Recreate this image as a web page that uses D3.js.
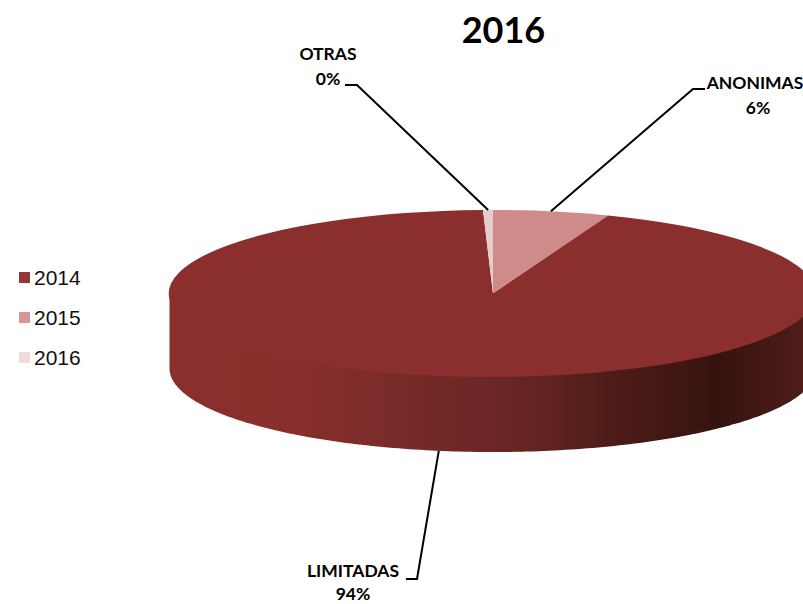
<!DOCTYPE html>
<html>
<head>
<meta charset="utf-8">
<script src="https://cdn.jsdelivr.net/npm/d3@7"></script>
<style>
    html, body { margin: 0; padding: 0; background: #fff; }
    svg { display: block; }
</style>
</head>
<body>
<div id="chart"></div>
<script>
(function () {
    "use strict";

    // values
    const categories = ["ANONIMAS", "LIMITADAS", "OTRAS"];
    const shares = [5.8, 93.7, 0.5];
    const shareLabels = ["6%", "94%", "0%"];
    const sliceColors = ["#cf8b8a", "#8a2f2d", "#e5cbca"];

    const legendYears = ["2014", "2015", "2016"];
    const legendColors = ["#953735", "#d99694", "#f2dcdb"];

    const width = 803;
    const height = 604;

    // the pie is a unit circle squashed into an ellipse
    const cx = 493;
    const cy = 293.5;
    const rx = 323.5;
    const ry = 83.5;
    const depth = 75;

    const svg = d3.select("#chart").append("svg").attr("width", width).attr("height", height);

    // shading of the side wall, dark towards the right
    const wallStops = [
        [0, "#8a2f2d"],
        [0.2, "#872f2c"],
        [0.36, "#782b29"],
        [0.5, "#6b2625"],
        [0.6, "#5e2220"],
        [0.68, "#4e1c18"],
        [0.85, "#361310"],
        [0.93, "#451815"],
        [1, "#561e1a"],
    ];
    const gradient = svg
        .append("defs")
        .append("linearGradient")
        .attr("id", "wall-shade")
        .attr("x1", 0)
        .attr("x2", 1)
        .attr("y1", 0)
        .attr("y2", 0);
    gradient
        .selectAll("stop")
        .data(wallStops)
        .join("stop")
        .attr("offset", (d) => d[0])
        .attr("stop-color", (d) => d[1]);

    // side wall, starts at the pie's centre line so no white shows along the seam
    const wallArea = d3
        .area()
        .x((t) => cx + rx * Math.cos(t))
        .y0(cy)
        .y1((t) => cy + ry * Math.sin(t) + depth);
    svg.append("path")
        .attr("d", wallArea(d3.range(0, Math.PI + 0.01, Math.PI / 180)))
        .attr("fill", "url(#wall-shade)");

    // top face
    const pie = d3.pie().sort(null);
    const pieData = pie(shares);
    const arc = d3.arc().innerRadius(0).outerRadius(1);
    svg.append("g")
        .attr("transform", `translate(${cx}, ${cy}) scale(${rx}, ${ry})`)
        .selectAll("path")
        .data(pieData)
        .join("path")
        .attr("d", arc)
        .attr("fill", (d, i) => sliceColors[i]);

    // leader lines run from the rim of a slice to a knee next to its label
    const leaders = [
        { angle: 0.18, knee: [693, 89], end: [705, 89], wall: false },
        { angle: 3.31, knee: [417, 579], end: [406, 579], wall: true },
        { angle: -0.015, knee: [357, 85], end: [345, 85], wall: false },
    ];
    const leaderLine = d3.line();
    svg.append("g")
        .selectAll("path")
        .data(leaders)
        .join("path")
        .attr("d", (d) => {
            const rim = [
                cx + rx * Math.sin(d.angle),
                cy - ry * Math.cos(d.angle) + (d.wall ? depth : 0),
            ];
            return leaderLine([rim, d.knee, d.end]);
        })
        .attr("fill", "none")
        .attr("stroke", "#000")
        .attr("stroke-width", 2);

    // title
    svg.append("text")
        .attr("x", 503.5)
        .attr("y", 43)
        .attr("text-anchor", "middle")
        .style("font", "bold 36px Lato")
        .attr("fill", "#000")
        .text("2016");

    // data labels: x, first baseline, gap to the second line
    const labelPositions = [
        [755, 89, 25],
        [353, 577, 23],
        [328, 60, 25],
    ];
    const labels = svg
        .append("g")
        .selectAll("text")
        .data(categories)
        .join("text")
        .attr("text-anchor", "middle")
        .attr("x", (d, i) => labelPositions[i][0])
        .attr("y", (d, i) => labelPositions[i][1])
        .style("font", "bold 17.5px Lato")
        .attr("fill", "#000");
    labels.append("tspan").text((d) => d);
    labels
        .append("tspan")
        .attr("x", (d, i) => (i === 0 ? 758 : labelPositions[i][0]))
        .attr("dy", (d, i) => labelPositions[i][2])
        .text((d, i) => shareLabels[i]);

    // legend
    const legendY = d3.scalePoint().domain(legendYears).range([278, 358]);
    const legend = svg
        .append("g")
        .selectAll("g")
        .data(legendYears)
        .join("g")
        .attr("transform", (d) => `translate(19, ${legendY(d)})`);
    legend
        .append("rect")
        .attr("y", -6)
        .attr("width", 11)
        .attr("height", 11)
        .attr("fill", (d, i) => legendColors[i]);
    legend
        .append("text")
        .attr("x", 15)
        .attr("y", 7)
        .style("font", "21px 'Liberation Sans'")
        .attr("fill", "#111")
        .text((d) => d);
})();
</script>
</body>
</html>
